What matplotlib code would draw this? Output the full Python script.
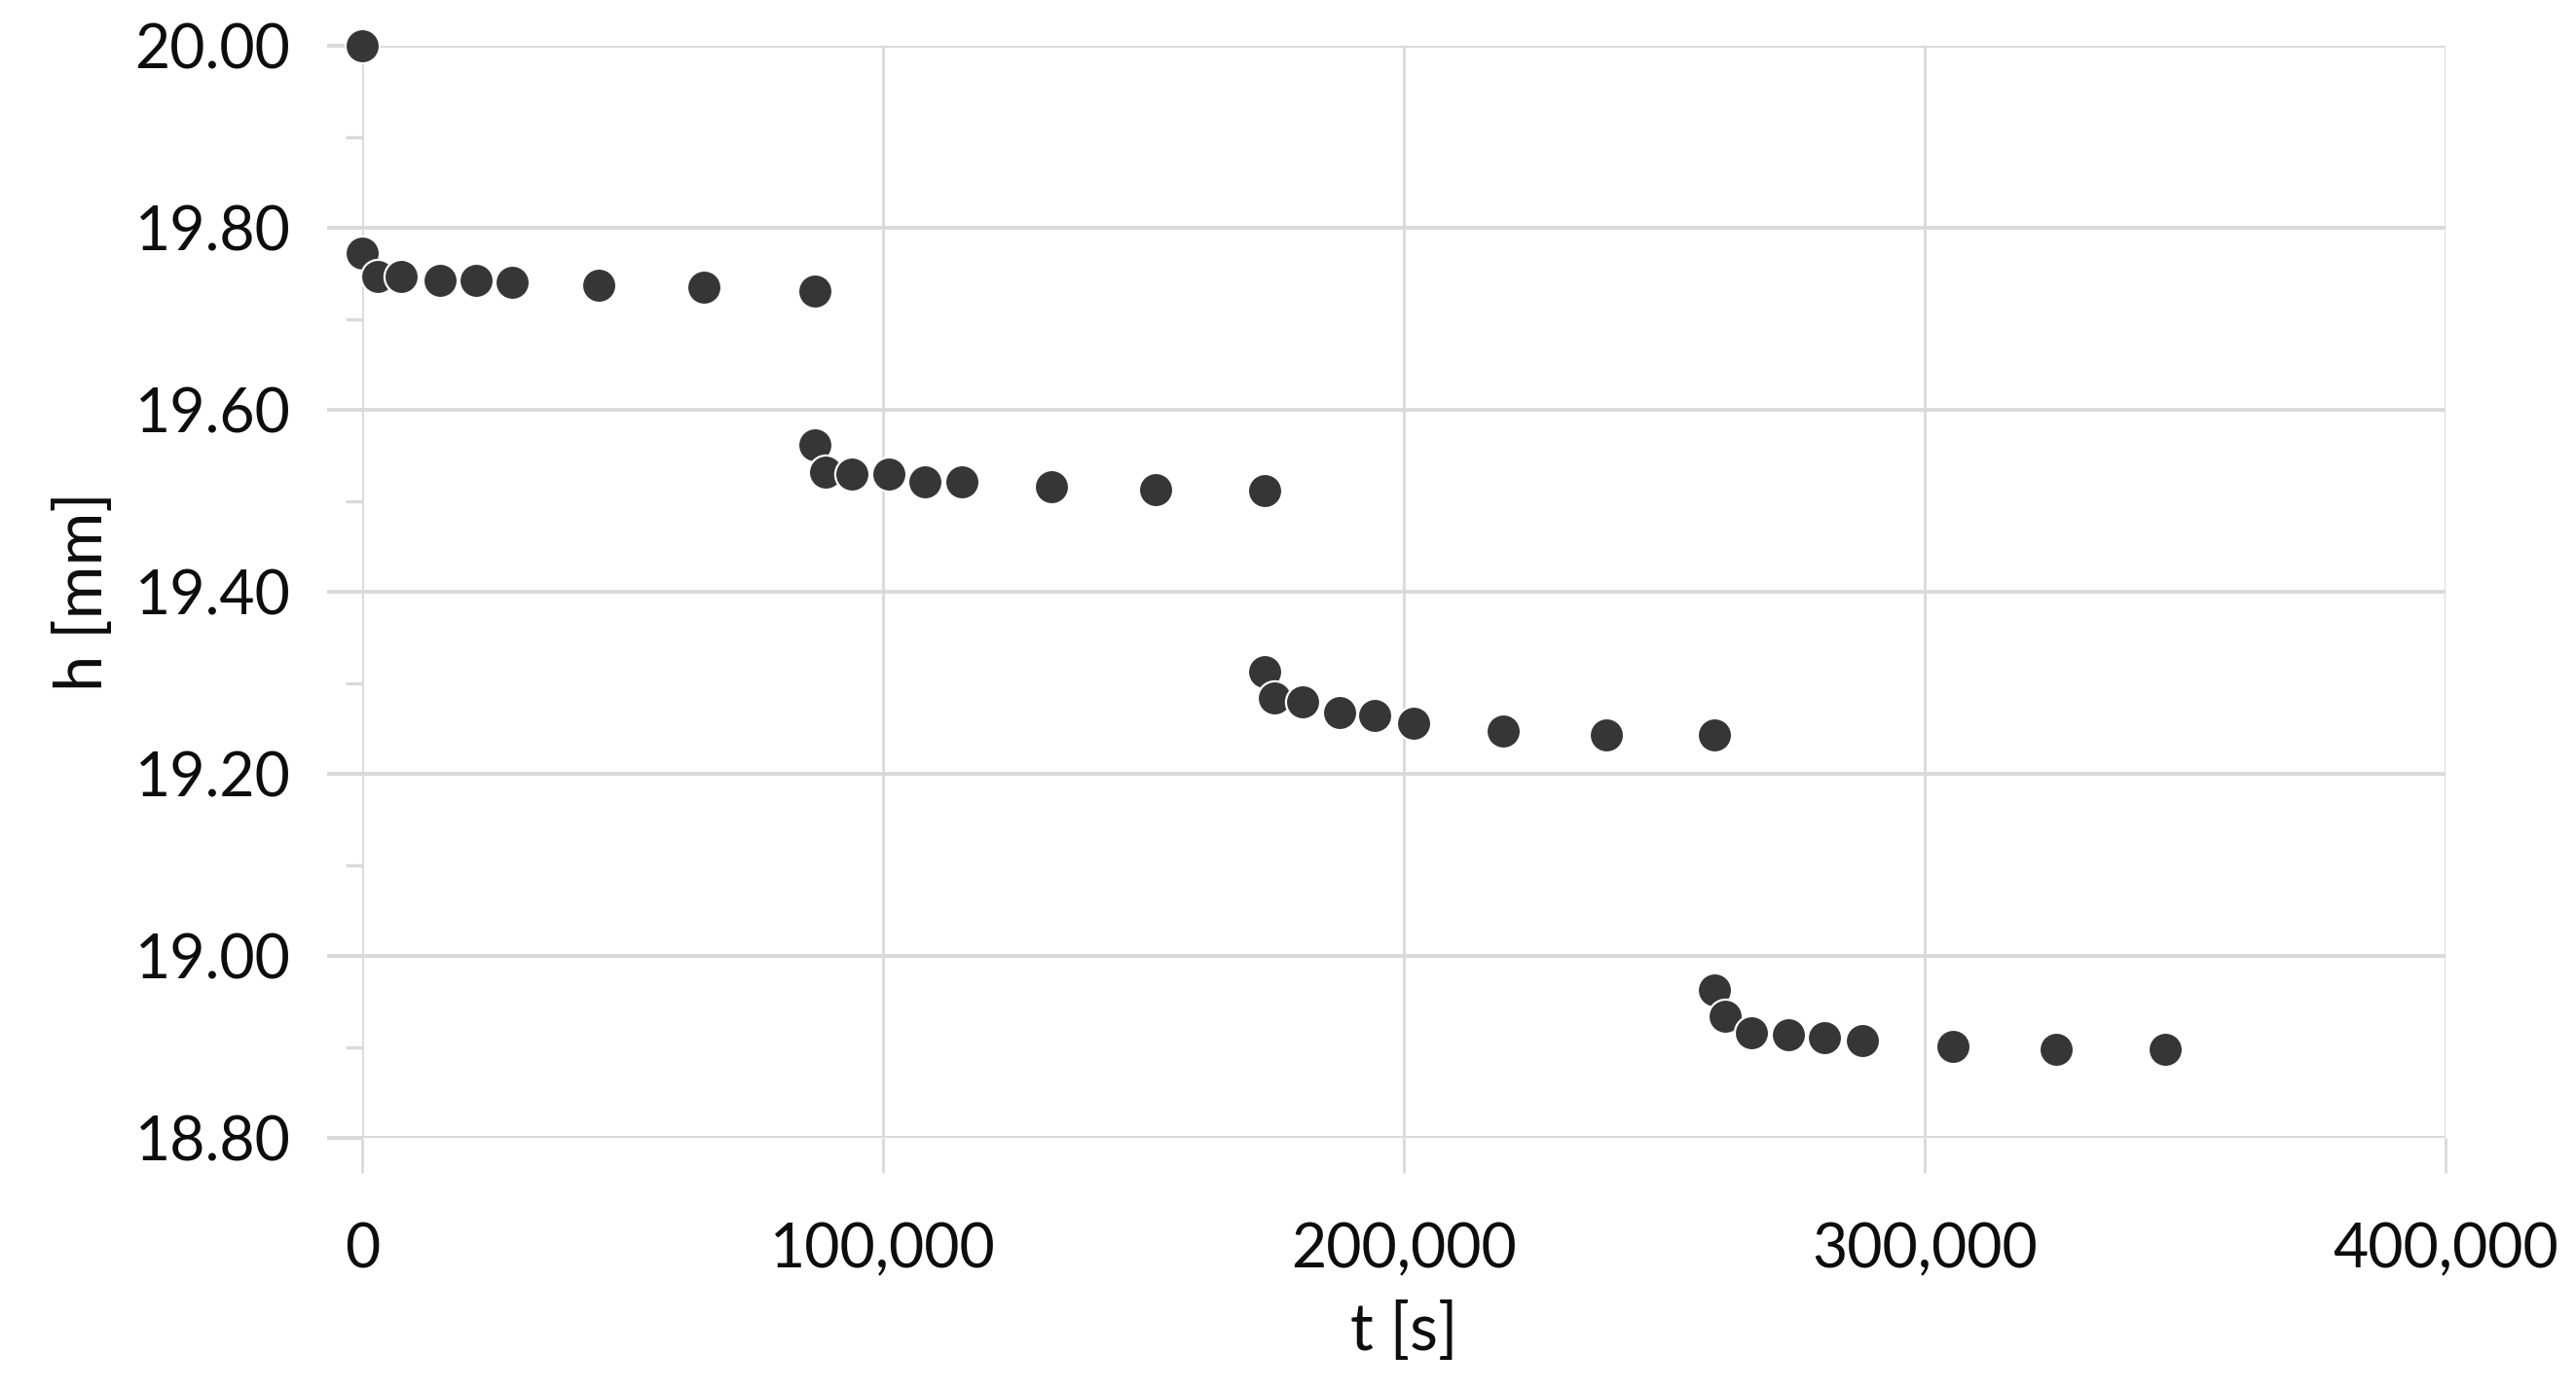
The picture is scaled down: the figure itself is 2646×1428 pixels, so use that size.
import matplotlib
matplotlib.use("Agg")
import matplotlib.pyplot as plt
from matplotlib.ticker import MultipleLocator, FuncFormatter

plt.rcParams['font.family'] = ['Lato', 'DejaVu Sans']

t_s = [0, 0, 3000, 7500, 15000, 21900, 28700, 45500, 65700, 87000,
       87000, 89000, 94000, 101200, 108100, 115200, 132400, 152300, 173200,
       173200, 175100, 180500, 187600, 194400, 201800, 219000, 238900, 259700,
       259700, 261700, 266700, 273800, 280800, 288000, 305500, 325300, 346200]
h_mm = [20.000, 19.772, 19.747, 19.747, 19.742, 19.742, 19.740, 19.737, 19.735, 19.731,
        19.562, 19.532, 19.529, 19.529, 19.521, 19.521, 19.515, 19.512, 19.511,
        19.312, 19.283, 19.279, 19.267, 19.264, 19.256, 19.247, 19.243, 19.243,
        18.963, 18.934, 18.916, 18.913, 18.910, 18.907, 18.901, 18.897, 18.897]

x_label = "t [s]"
y_label = "h [mm]"

fig = plt.figure(figsize=(13.23, 7.14), dpi=200)
ax = fig.add_axes([372/2646, 1 - 1169/1428, 2140/2646, 1122/1428])

grid_c = '#d9d9d9'
ax.set_xlim(0, 400000)
ax.set_ylim(18.80, 20.00)
ax.xaxis.set_major_locator(MultipleLocator(100000))
ax.yaxis.set_major_locator(MultipleLocator(0.2))
ax.yaxis.set_minor_locator(MultipleLocator(0.1))
ax.xaxis.set_major_formatter(FuncFormatter(lambda v, p: f"{int(round(v)):,}"))
ax.yaxis.set_major_formatter(FuncFormatter(lambda v, p: f"{v:.2f}"))

ax.grid(True, axis='y', which='major', color=grid_c, linewidth=1.4, zorder=0)
ax.grid(True, axis='x', which='major', color=grid_c, linewidth=1.0, zorder=0)
for s in ax.spines.values():
    s.set_visible(False)

ax.tick_params(axis='y', which='major', length=13, width=1.4, color=grid_c,
               pad=13.5, labelsize=22.5, labelcolor='#0d0d0d')
ax.tick_params(axis='y', which='minor', length=6, width=1.2, color=grid_c)
ax.tick_params(axis='x', which='major', length=13, width=1.0, color=grid_c,
               pad=18, labelsize=22.5, labelcolor='#0d0d0d')

ax.scatter(t_s, h_mm, s=160, color='#363636', edgecolors='white',
           linewidths=0.8, zorder=3, clip_on=False)

ax.set_xlabel(x_label, fontsize=24, color='#0d0d0d')
ax.set_ylabel(y_label, fontsize=24, color='#0d0d0d')
ax.xaxis.set_label_coords(0.5, -0.15)
ax.yaxis.set_label_coords(-0.119, 0.5)

fig.savefig("out.png", dpi=200, facecolor='white')
